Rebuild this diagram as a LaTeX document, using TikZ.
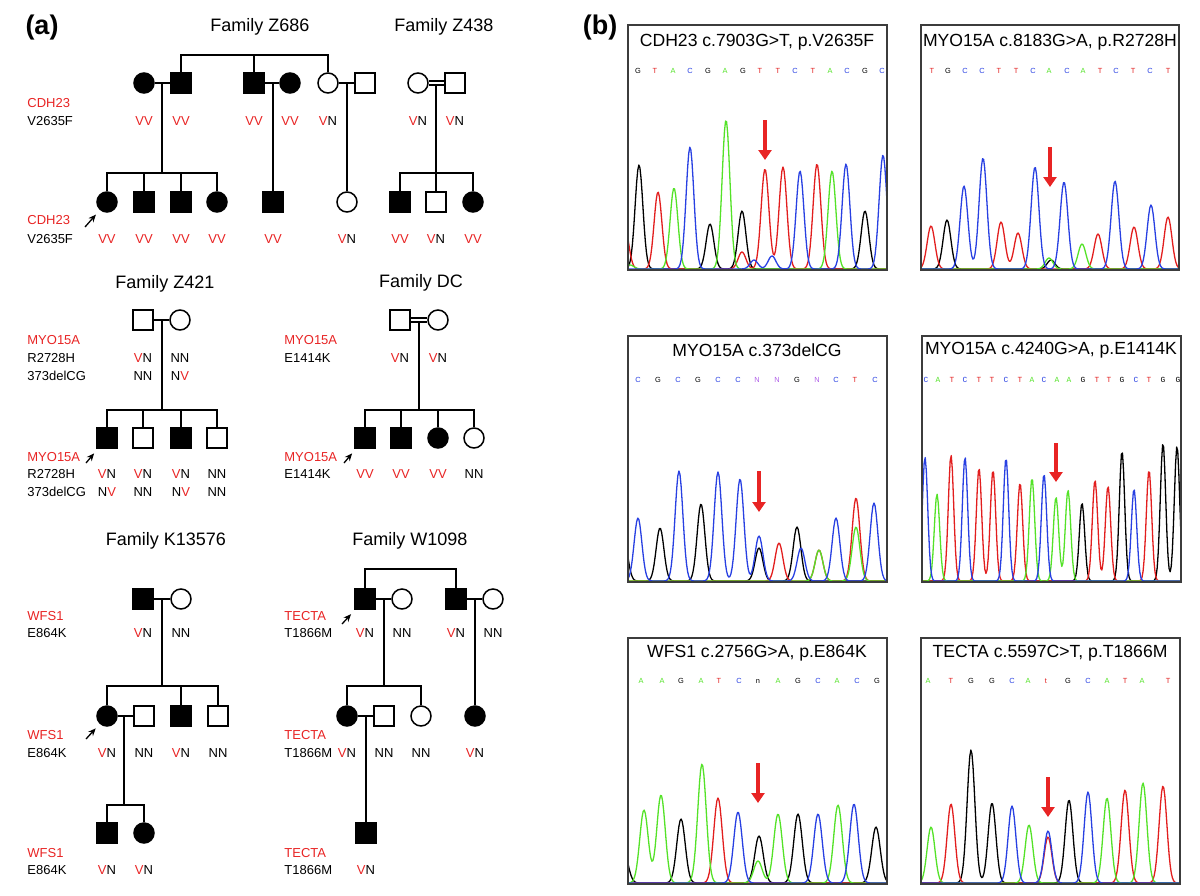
\documentclass[tikz,border=0pt]{standalone}
\usepackage{fontspec}
\setmainfont{Liberation Sans}
\newfontfamily\seqmono{Liberation Mono}
\usepackage{xcolor}
\definecolor{vred}{RGB}{232,36,36}
\definecolor{tred}{RGB}{226,30,30}
\definecolor{tgreen}{RGB}{84,226,40}
\definecolor{tblue}{RGB}{40,64,226}
\definecolor{tpurple}{RGB}{176,96,232}
\definecolor{frame}{RGB}{60,60,60}
\usepackage{tikz}
\usetikzlibrary{arrows.meta}

\newcommand{\Vr}{\textcolor{vred}{V}}
% one coloured trace: sum of gaussian peaks c/h
\newcommand{\chromtrace}[5]{%
  \gdef\pk{0}%
  \foreach \c/\h in {#5}{\xdef\pk{\unexpanded\expandafter{\pk}+\h*exp(-(((\noexpand\x-\c)/#3)^2))}}%
  \draw[trace,#1] plot[domain=#4,samples=240] (\x,{#2-(\pk)});%
}

\begin{document}
\begin{tikzpicture}[x=0.5pt,y=-0.5pt,
  male/.style={draw,rectangle,minimum size=10pt,inner sep=0pt,line width=0.75pt,fill=white},
  female/.style={male,circle},
  aff/.style={fill=black},
  ln/.style={line width=0.75pt},
  dbl/.style={line width=0.65pt,double,double distance=1.3pt},
  fam/.style={font=\fontsize{9}{10}\selectfont,inner sep=0pt},
  lbl/.style={font=\fontsize{6.5}{7}\selectfont,inner sep=0pt,anchor=west},
  gn/.style={lbl,text=vred},
  gt/.style={font=\fontsize{6.5}{7}\selectfont,inner sep=0pt},
  pro/.style={-{Stealth[length=3.8pt,width=3.2pt]},line width=0.65pt,shorten >=3pt},
  panel/.style={font=\bfseries\fontsize{13.5}{15}\selectfont,inner sep=0pt},
  ttl/.style={font=\fontsize{8.8}{10}\selectfont,inner sep=0pt},
  base/.style={font=\fontsize{3.7}{4}\selectfont,inner sep=0pt},
  trace/.style={line width=0.65pt,line join=round},
  redarr/.style={-{Triangle[width=6.5pt,length=5pt]},line width=1.6pt,draw=vred},
  box/.style={draw=frame,line width=0.65pt}
]
\useasboundingbox (0,0) rectangle (1200,895);

% ---------------- (a) pedigrees ----------------
\node[panel] (pa) at (42,28) {(a)};

% Family Z686
\node[fam] (tz686) at (260,27) {Family Z686};
\node[female,aff] (z1) at (144,83) {};
\node[male,aff] (z2) at (181,83) {};
\node[male,aff] (z3) at (254,83) {};
\node[female,aff] (z4) at (290,83) {};
\node[female] (z5) at (328,83) {};
\node[male] (z6) at (365,83) {};
\coordinate (zs) at (254,55);
\draw[ln] (z2) |- (zs) -| (z5);
\draw[ln] (z3) -- (zs);
\draw[ln] (z1) -- (z2);
\draw[ln] (z3) -- (z4);
\draw[ln] (z5) -- (z6);
\coordinate (zk) at (162,173);
\draw[ln] (zk|-z1) -- (zk);
\node[female,aff] (z7) at (107,202) {};
\node[male,aff] (z8) at (144,202) {};
\node[male,aff] (z9) at (181,202) {};
\node[female,aff] (z10) at (217,202) {};
\draw[ln] (z7) |- (zk) -| (z10);
\draw[ln] (z8) -- (z8|-zk);
\draw[ln] (z9) -- (z9|-zk);
\node[male,aff] (z11) at (273,202) {};
\draw[ln] (z11|-z3) -- (z11);
\node[female] (z12) at (347,202) {};
\draw[ln] (z12|-z5) -- (z12);

% Family Z438
\node[fam] (tz438) at (444,27) {Family Z438};
\node[female] (y1) at (418,83) {};
\node[male] (y2) at (455,83) {};
\draw[dbl] (y1) -- (y2);
\coordinate (yk) at (436,173);
\draw[ln] ([yshift=-1.2pt]yk|-y1) -- (yk);
\node[male,aff] (y3) at (400,202) {};
\node[male] (y4) at (436,202) {};
\node[female,aff] (y5) at (473,202) {};
\draw[ln] (y3) |- (yk) -| (y5);
\draw[ln] (y4) -- (yk);

\node[gn] (l1) at (27,103) {CDH23};
\node[lbl] (l2) at (27,121) {V2635F};
\node[gn] (l3) at (27,220) {CDH23};
\node[lbl] (l4) at (27,239) {V2635F};
\foreach \x/\g [count=\i] in {144/\Vr\Vr,181/\Vr\Vr,254/\Vr\Vr,290/\Vr\Vr,328/\Vr N,418/\Vr N,455/\Vr N}
  \node[gt] (ga\i) at (\x,121) {\g};
\foreach \x/\g [count=\i] in {107/\Vr\Vr,144/\Vr\Vr,181/\Vr\Vr,217/\Vr\Vr,273/\Vr\Vr,347/\Vr N,400/\Vr\Vr,436/\Vr N,473/\Vr\Vr}
  \node[gt] (gb\i) at (\x,239) {\g};
\coordinate (p1) at (85,227);
\draw[pro] (p1) -- (z7);

% Family Z421
\node[fam] (tz421) at (165,284) {Family Z421};
\node[male] (x1) at (143,320) {};
\node[female] (x2) at (180,320) {};
\draw[ln] (x1) -- (x2);
\coordinate (xk) at (162,410);
\draw[ln] (xk|-x1) -- (xk);
\node[male,aff] (x3) at (107,438) {};
\node[male] (x4) at (143,438) {};
\node[male,aff] (x5) at (181,438) {};
\node[male] (x6) at (217,438) {};
\draw[ln] (x3) |- (xk) -| (x6);
\draw[ln] (x4) -- (x4|-xk);
\draw[ln] (x5) -- (x5|-xk);
\node[gn] (l5) at (27,340) {MYO15A};
\node[lbl] (l6) at (27,358) {R2728H};
\node[lbl] (l7) at (27,376) {373delCG};
\node[gn] (l8) at (27,457) {MYO15A};
\node[lbl] (l9) at (27,474) {R2728H};
\node[lbl] (l10) at (27,492) {373delCG};
\node[gt] (gc1) at (143,358) {\Vr N};
\node[gt] (gc2) at (180,358) {NN};
\node[gt] (gc3) at (143,376) {NN};
\node[gt] (gc4) at (180,376) {N\Vr};
\foreach \x/\g [count=\i] in {107/\Vr N,143/\Vr N,181/\Vr N,217/NN}
  \node[gt] (gd\i) at (\x,474) {\g};
\foreach \x/\g [count=\i] in {107/N\Vr,143/NN,181/N\Vr,217/NN}
  \node[gt] (ge\i) at (\x,492) {\g};
\coordinate (p2) at (86,463);
\draw[pro] (p2) -- (x3);

% Family DC
\node[fam] (tdc) at (421,283) {Family DC};
\node[male] (w1) at (400,320) {};
\node[female] (w2) at (438,320) {};
\draw[dbl] (w1) -- (w2);
\coordinate (wk) at (419,410);
\draw[ln] ([yshift=-1.2pt]wk|-w1) -- (wk);
\node[male,aff] (w3) at (365,438) {};
\node[male,aff] (w4) at (401,438) {};
\node[female,aff] (w5) at (438,438) {};
\node[female] (w6) at (474,438) {};
\draw[ln] (w3) |- (wk) -| (w6);
\draw[ln] (w4) -- (w4|-wk);
\draw[ln] (w5) -- (w5|-wk);
\node[gn] (l11) at (284,340) {MYO15A};
\node[lbl] (l12) at (284,358) {E1414K};
\node[gn] (l13) at (284,457) {MYO15A};
\node[lbl] (l14) at (284,474) {E1414K};
\node[gt] (gf1) at (400,358) {\Vr N};
\node[gt] (gf2) at (438,358) {\Vr N};
\foreach \x/\g [count=\i] in {365/\Vr\Vr,401/\Vr\Vr,438/\Vr\Vr,474/NN}
  \node[gt] (gg\i) at (\x,474) {\g};
\coordinate (p3) at (344,463);
\draw[pro] (p3) -- (w3);

% Family K13576
\node[fam] (tk) at (166,541) {Family K13576};
\node[male,aff] (k1) at (143,599) {};
\node[female] (k2) at (181,599) {};
\draw[ln] (k1) -- (k2);
\coordinate (kk1) at (162,686);
\draw[ln] (kk1|-k1) -- (kk1);
\node[female,aff] (k3) at (107,716) {};
\node[male] (k4) at (144,716) {};
\node[male,aff] (k5) at (181,716) {};
\node[male] (k6) at (218,716) {};
\draw[ln] (k3) |- (kk1) -| (k6);
\draw[ln] (k5) -- (k5|-kk1);
\draw[ln] (k3) -- (k4);
\coordinate (kk2) at (124,805);
\draw[ln] (kk2|-k3) -- (kk2);
\node[male,aff] (k7) at (107,833) {};
\node[female,aff] (k8) at (144,833) {};
\draw[ln] (k7) |- (kk2) -| (k8);
\node[gn] (l15) at (27,616) {WFS1};
\node[lbl] (l16) at (27,633) {E864K};
\node[gn] (l17) at (27,735) {WFS1};
\node[lbl] (l18) at (27,753) {E864K};
\node[gn] (l19) at (27,853) {WFS1};
\node[lbl] (l20) at (27,870) {E864K};
\node[gt] (gh1) at (143,633) {\Vr N};
\node[gt] (gh2) at (181,633) {NN};
\foreach \x/\g [count=\i] in {107/\Vr N,144/NN,181/\Vr N,218/NN}
  \node[gt] (gi\i) at (\x,753) {\g};
\node[gt] (gj1) at (107,870) {\Vr N};
\node[gt] (gj2) at (144,870) {\Vr N};
\coordinate (p4) at (86,739);
\draw[pro] (p4) -- (k3);

% Family W1098
\node[fam] (tw) at (410,541) {Family W1098};
\node[male,aff] (v1) at (365,599) {};
\node[female] (v2) at (402,599) {};
\node[male,aff] (v3) at (456,599) {};
\node[female] (v4) at (493,599) {};
\coordinate (vs) at (410,569);
\draw[ln] (v1) |- (vs) -| (v3);
\draw[ln] (v1) -- (v2);
\draw[ln] (v3) -- (v4);
\coordinate (vk) at (384,686);
\draw[ln] (vk|-v1) -- (vk);
\node[female,aff] (v5) at (347,716) {};
\node[male] (v6) at (384,716) {};
\node[female] (v7) at (421,716) {};
\draw[ln] (v5) |- (vk) -| (v7);
\node[female,aff] (v8) at (475,716) {};
\draw[ln] (v8|-v3) -- (v8);
\draw[ln] (v5) -- (v6);
\node[male,aff] (v9) at (366,833) {};
\draw[ln] (v9|-v5) -- (v9);
\node[gn] (l21) at (284,616) {TECTA};
\node[lbl] (l22) at (284,633) {T1866M};
\node[gn] (l23) at (284,735) {TECTA};
\node[lbl] (l24) at (284,753) {T1866M};
\node[gn] (l25) at (284,853) {TECTA};
\node[lbl] (l26) at (284,870) {T1866M};
\foreach \x/\g [count=\i] in {365/\Vr N,402/NN,456/\Vr N,493/NN}
  \node[gt] (gk\i) at (\x,633) {\g};
\foreach \x/\g [count=\i] in {347/\Vr N,384/NN,421/NN,475/\Vr N}
  \node[gt] (gl\i) at (\x,753) {\g};
\node[gt] (gm1) at (366,870) {\Vr N};
\coordinate (p5) at (342,624);
\draw[pro] (p5) -- (v1);

% ---------------- (b) chromatograms ----------------
\node[panel] (pb) at (600,28) {(b)};

% CDH23
\begin{scope}
  \clip (628,25) rectangle (887,270);
  \chromtrace{black}{269}{5.5}{628:887}{639/104,710/45,742/58,865/58}
  \chromtrace{tred}{269}{5.5}{628:887}{625/40,658/77,742/17,765/100,783/102,817/105}
  \chromtrace{tgreen}{269}{5.5}{628:887}{630/4,674/81,726/149,832/98}
  \chromtrace{tblue}{269}{5.5}{628:887}{690/122,754/9,772/13,800/98,846/105,883/114}
\end{scope}
\draw[box] (628,25) rectangle (887,270);
\node[ttl] (c1) at (757,42) {CDH23 c.7903G>T, p.V2635F};
\foreach \b/\x/\col [count=\i] in {G/638/black,T/655/tred,A/673/tgreen,C/690/tblue,G/708/black,A/725/tgreen,G/743/black,T/760/tred,T/778/tred,C/795/tblue,T/813/tred,A/830/tgreen,C/847/tblue,G/865/black,C/882/tblue}
  \node[base,text=\col] (s1-\i) at (\x,71) {\b};
\draw[redarr] (765,120) -- (765,160);

% MYO15A R2728H
\begin{scope}
  \clip (921,25) rectangle (1179,270);
  \chromtrace{black}{269}{5.5}{921:1179}{947/49,1051/9}
  \chromtrace{tred}{269}{5.5}{921:1179}{931/43,1001/47,1018/36,1098/35,1134/42,1168/52}
  \chromtrace{tgreen}{269}{5.5}{921:1179}{1049/11,1082/25}
  \chromtrace{tblue}{269}{5.5}{921:1179}{964/83,983/111,1035/102,1064/87,1115/88,1151/64}
\end{scope}
\draw[box] (921,25) rectangle (1179,270);
\node[ttl] (c2) at (1050,42) {MYO15A c.8183G>A, p.R2728H};
\foreach \b/\x/\col [count=\i] in {T/932/tred,G/948/black,C/965/tblue,C/982/tblue,T/999/tred,T/1016/tred,C/1033/tblue,A/1049/tgreen,C/1067/tblue,A/1083/tgreen,T/1100/tred,C/1116/tblue,T/1133/tred,C/1150/tblue,T/1168/tred}
  \node[base,text=\col] (s2-\i) at (\x,71) {\b};
\draw[redarr] (1050,147) -- (1050,187);

% MYO15A 373delCG
\begin{scope}
  \clip (628,336) rectangle (887,582);
  \chromtrace{black}{581}{5.5}{628:887}{624/40,660/53,701/77,759/33,797/54}
  \chromtrace{tred}{581}{5.5}{628:887}{779/38,819/31,856/83}
  \chromtrace{tgreen}{581}{5.5}{628:887}{819/31,856/54}
  \chromtrace{tblue}{581}{5.5}{628:887}{638/63,679/110,718/109,740/102,759/45,801/33,836/63,874/78}
\end{scope}
\draw[box] (628,336) rectangle (887,582);
\node[ttl] (c3) at (757,350) {MYO15A c.373delCG};
\foreach \b/\x/\col [count=\i] in {C/638/tblue,G/658/black,C/678/tblue,G/698/black,C/718/tblue,C/738/tblue,N/757/tpurple,N/777/tpurple,G/797/black,N/817/tpurple,C/836/tblue,T/855/tred,C/875/tblue}
  \node[base,text=\col] (s3-\i) at (\x,380) {\b};
\draw[redarr] (759,471) -- (759,512);

% MYO15A E1414K
\begin{scope}
  \clip (922,336) rectangle (1181,582);
  \chromtrace{black}{581}{3.8}{922:1181}{1082/78,1122/130,1163/138,1177/135}
  \chromtrace{tred}{581}{3.8}{922:1181}{951/126,979/113,993/111,1020/98,1095/101,1108/95,1149/111}
  \chromtrace{tgreen}{581}{3.8}{922:1181}{937/87,1032/103,1056/84,1068/91}
  \chromtrace{tblue}{581}{3.8}{922:1181}{925/124,965/124,1006/123,1044/107,1134/92}
\end{scope}
\draw[box] (922,336) rectangle (1181,582);
\node[ttl] (c4) at (1051,350) {MYO15A c.4240G>A, p.E1414K};
\foreach \b/\x/\col [count=\i] in {C/926/tblue,A/938/tgreen,T/952/tred,C/965/tblue,T/979/tred,T/992/tred,C/1006/tblue,T/1020/tred,A/1032/tgreen,C/1044/tblue,A/1057/tgreen,A/1069/tgreen,G/1083/black,T/1097/tred,T/1109/tred,G/1122/black,C/1136/tblue,T/1149/tred,G/1163/black,G/1178/black}
  \node[base,text=\col,font=\seqmono\fontsize{3.9}{4}\selectfont] (s4-\i) at (\x,380) {\b};
\draw[redarr] (1056,443) -- (1056,482);

% WFS1
\begin{scope}
  \clip (628,638) rectangle (887,884);
  \chromtrace{black}{883}{6}{628:887}{624/30,681/64,759/47,798/69,876/56}
  \chromtrace{tred}{883}{6}{628:887}{718/85}
  \chromtrace{tgreen}{883}{6}{628:887}{644/73,661/88,702/119,758/22,778/69,838/78}
  \chromtrace{tblue}{883}{6}{628:887}{738/71,818/69,854/79}
\end{scope}
\draw[box] (628,638) rectangle (887,884);
\node[ttl] (c5) at (757,653) {WFS1 c.2756G>A, p.E864K};
\foreach \b/\x/\col [count=\i] in {A/641/tgreen,A/662/tgreen,G/681/black,A/701/tgreen,T/719/tred,C/739/tblue,n/758/black,A/778/tgreen,G/798/black,C/818/tblue,A/837/tgreen,C/857/tblue,G/877/black}
  \node[base,text=\col] (s5-\i) at (\x,681) {\b};
\draw[redarr] (758,763) -- (758,803);

% TECTA
\begin{scope}
  \clip (921,638) rectangle (1180,884);
  \chromtrace{black}{883}{5.5}{921:1180}{971/133,992/80,1069/83}
  \chromtrace{tred}{883}{5.5}{921:1180}{951/79,1048/46,1125/93,1163/97}
  \chromtrace{tgreen}{883}{5.5}{921:1180}{931/56,1029/58,1107/85,1143/100}
  \chromtrace{tblue}{883}{5.5}{921:1180}{1012/77,1048/52,1088/91}
\end{scope}
\draw[box] (921,638) rectangle (1180,884);
\node[ttl] (c6) at (1050,653) {TECTA c.5597C>T, p.T1866M};
\foreach \b/\x/\col [count=\i] in {A/928/tgreen,T/951/tred,G/971/black,G/992/black,C/1012/tblue,A/1028/tgreen,t/1046/tred,G/1068/black,C/1088/tblue,A/1107/tgreen,T/1125/tred,A/1142/tgreen,T/1168/tred}
  \node[base,text=\col] (s6-\i) at (\x,681) {\b};
\draw[redarr] (1048,777) -- (1048,817);
\end{tikzpicture}
\end{document}
